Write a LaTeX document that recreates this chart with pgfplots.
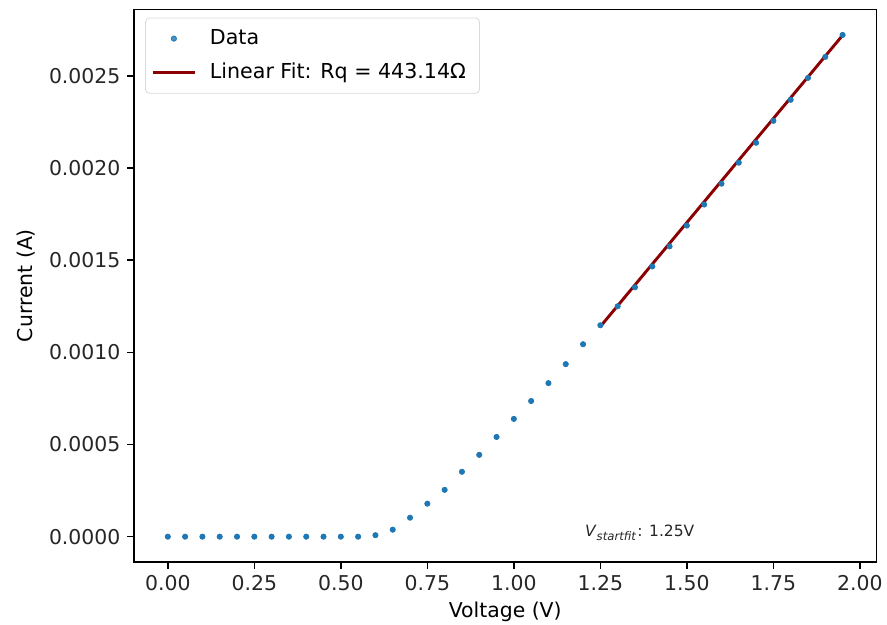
\documentclass[border=0pt]{standalone}
\usepackage{pgfplots}
\pgfplotsset{compat=1.18}
\usepackage{fontspec}
\setmainfont{DejaVu Sans}
\definecolor{mplblue}{HTML}{1F77B4}
\definecolor{fitred}{HTML}{8B0000}
\begin{document}
\begin{tikzpicture}
\begin{axis}[
  scale only axis,
  width=382pt, height=284.3pt,
  xmin=-0.0975, xmax=2.0475,
  ymin=-0.000136, ymax=0.002861,
  xtick={0,0.25,0.5,0.75,1,1.25,1.5,1.75,2},
  ytick={0,0.0005,0.001,0.0015,0.002,0.0025},
  scaled y ticks=false, scaled x ticks=false,
  xticklabel style={/pgf/number format/.cd, fixed, fixed zerofill, precision=2},
  yticklabel style={/pgf/number format/.cd, fixed, fixed zerofill, precision=4},
  /pgf/number format/assume math mode=true,
  tick align=outside,
  major tick length=3.5pt,
  tick style={line width=0.8pt, black},
  axis line style={line width=0.8pt},
  ticklabel style={font=\fontsize{10.5}{12}\selectfont, text=black!85},
  xtick pos=bottom, ytick pos=left,
  xlabel={Voltage (V)}, ylabel={Current (A)},
  label style={font=\fontsize{10.5}{12}\selectfont},
  xlabel style={yshift=1pt},
  legend style={at={(0.015,0.985)}, anchor=north west, draw=black!15, rounded corners=2pt,
    font=\fontsize{10.6}{13}\selectfont, inner xsep=3pt, inner ysep=4pt, row sep=4pt, column sep=3pt, fill=white, fill opacity=0.8, text opacity=1,
    nodes={inner xsep=4pt}},
  legend cell align=left,
  legend image code/.code={\draw[#1] (0cm,0cm) -- (0.76cm,0cm);},
  name=ax,
]
\addplot[only marks, mark=*, mark size=1.35pt, mplblue, mark options={draw=mplblue, fill=mplblue},
  legend image code/.code={\draw[mplblue, fill=mplblue] (0.38cm,0cm) circle (1.35pt);}] coordinates {
(0.00,0) (0.05,0) (0.10,0) (0.15,0) (0.20,0) (0.25,0) (0.30,0) (0.35,0) (0.40,0) (0.45,0)
(0.50,0) (0.55,0) (0.60,0.000008) (0.65,0.000038) (0.70,0.000103) (0.75,0.000179)
(0.80,0.000254) (0.85,0.000352) (0.90,0.000444) (0.95,0.000541) (1.00,0.000639)
(1.05,0.000736) (1.10,0.000833) (1.15,0.000936) (1.20,0.001044) (1.25,0.001147)
(1.30,0.001250) (1.35,0.001353) (1.40,0.001466) (1.45,0.001575) (1.50,0.001688)
(1.55,0.001802) (1.60,0.001915) (1.65,0.002029) (1.70,0.002137) (1.75,0.002256)
(1.80,0.002370) (1.85,0.002489) (1.90,0.002603) (1.95,0.002722)
};
\addlegendentry{Data}
\addplot[fitred, line width=1.5pt] coordinates {(1.25,0.001140) (1.95,0.002720)};
\addlegendentry{Linear Fit: Rq = 443.14Ω}
\node[anchor=base west, font=\fontsize{8}{10}\selectfont, text=black!85, inner sep=0pt] at (axis cs:1.205,0.0000) {\textit{V}\textsubscript{\textit{startfit}}: 1.25V};
\end{axis}
\pgfresetboundingbox
\path[use as bounding box] ([xshift=-69pt,yshift=-32.4pt]ax.south west) rectangle ([xshift=5.5pt,yshift=4.8pt]ax.north east);
\end{tikzpicture}
\end{document}
